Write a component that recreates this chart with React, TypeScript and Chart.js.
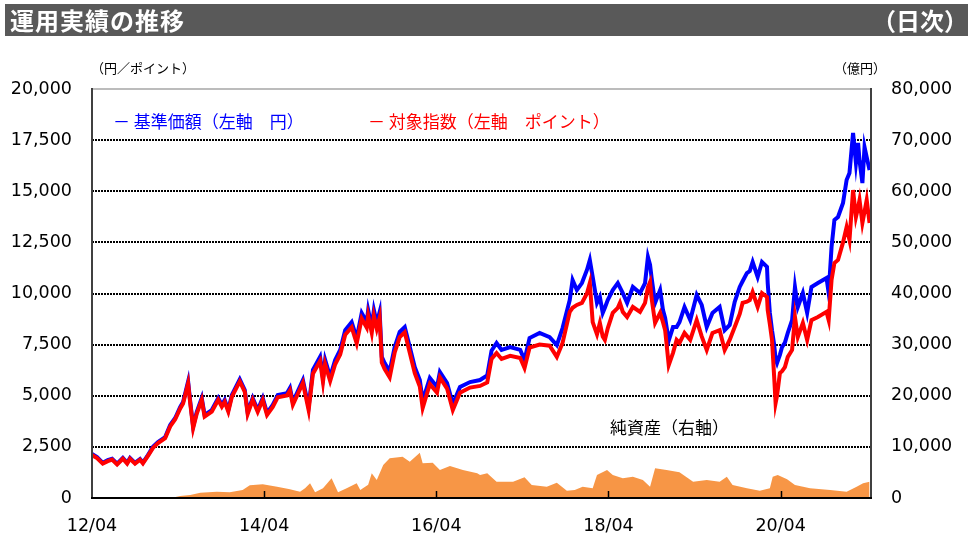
import React, { useEffect, useRef } from "react";
import { Chart, registerables } from "chart.js";

Chart.register(...registerables);

// X axis: months elapsed since 2012/04
const xTickMonths = [0, 24, 48, 72, 96];
const xTickLabels = ["12/04", "14/04", "16/04", "18/04", "20/04"];
const xMaxMonth = 108.6;

const leftTicks = [0, 2500, 5000, 7500, 10000, 12500, 15000, 17500, 20000];
const rightTicks = [0, 10000, 20000, 30000, 40000, 50000, 60000, 70000, 80000];

// 基準価額 / 対象指数 sample months
const lineMonths = [
  0.0, 0.7, 1.5, 2.2, 2.8, 3.5, 4.3, 4.9, 5.3, 6.0,
  6.7, 7.1, 7.8, 8.5, 9.2, 10.2, 10.9, 11.6, 12.3, 12.7,
  13.4, 13.7, 14.1, 14.6, 15.3, 15.7, 16.7, 17.6, 18.1, 18.5,
  19.0, 19.5, 20.6, 21.3, 21.7, 22.4, 23.1, 23.8, 24.4, 25.2,
  25.9, 27.2, 27.6,
  28.0, 29.4, 30.2, 30.8, 31.8, 32.2, 32.5, 33.2, 33.9, 34.6,
  35.3, 36.2, 36.9, 37.6, 38.3, 38.5, 39.0, 39.3, 39.7, 40.1,
  40.4, 40.8, 41.5, 42.2, 42.9, 43.6, 44.3, 45.0, 45.7, 46.1,
  47.1, 48.1, 48.5, 49.5, 50.3, 51.3, 52.7, 54.1,
  55.1, 55.7, 56.4, 57.1, 58.3, 59.7, 60.3, 61.0, 62.4, 63.8,
  64.8, 65.6, 66.6, 67.0, 67.6, 68.3, 69.0, 69.4, 69.8, 70.4,
  70.8, 71.2, 71.5, 71.9, 72.6, 73.3, 73.6, 74.0, 74.6, 75.4,
  76.4, 77.1, 77.5, 77.8, 78.0, 78.5, 79.2, 79.6, 79.9, 80.4,
  81.0, 81.5, 81.9, 82.6, 83.4, 84.3, 85.0, 85.7, 86.5, 87.5,
  88.2, 88.9, 89.6, 90.3, 90.7, 91.3, 91.7, 92.1, 92.8, 93.4,
  94.1, 94.2, 94.5, 94.8, 95.1, 95.3, 95.5, 95.9, 96.2, 96.6,
  97.0, 97.6, 98.0, 98.4, 99.1, 99.7, 100.3, 101.2, 102.4, 102.7,
  103.1, 103.5, 104.0, 104.7, 105.2, 105.6, 106.1, 106.5, 106.8, 107.0,
  107.4, 107.7, 108.0, 108.4,
];

// 基準価額（円）
const navValues = [
  2150, 2000, 1720, 1850, 1920, 1680, 1960, 1720, 1960, 1720,
  1910, 1730, 2100, 2500, 2740, 2980, 3570, 3910, 4450, 4690,
  5700, 4700, 3500, 4200, 4890, 4060, 4300, 4890, 4550, 4790,
  4300, 5040, 5800, 5280, 4200, 4890, 4300, 4890, 4160, 4550,
  5040, 5130, 5380,
  4690, 5770, 4450, 6260, 6900, 5870, 6750, 5920, 6750, 7240,
  8210, 8600, 7820, 9050, 8600, 9190, 8360, 9190, 8560, 9100,
  6900, 6600, 6200, 7380, 8120, 8360, 7380, 6400, 5770, 4750,
  5870, 5430, 6160, 5620, 4600, 5430, 5670, 5770,
  6000, 7200, 7580, 7240, 7380, 7240, 6750, 7820, 8070, 7870,
  7480, 8310, 9680, 10660, 10170, 10510, 11150, 11640, 10810, 9540,
  9830, 9050, 9300, 9680, 10170, 10510, 10300, 10020, 9540, 10320,
  10020, 10510, 11790, 11400, 10810, 9540, 10170, 9190, 8800, 7700,
  8360, 8360, 8600, 9340, 8700, 9930, 9440, 8360, 9050, 9340,
  8210, 8460, 9590, 10320, 10600, 11000, 11100, 11540, 10810, 11540,
  11300, 10510, 9050, 8200, 7500, 6800, 6600, 7000, 7380, 7600,
  8070, 8700, 10320, 9340, 10020, 9050, 10320, 10510, 10760, 10020,
  12270, 13590, 13740, 14430, 15550, 15890, 17850, 16380, 17360, 16500,
  15400, 17160, 16670, 16040,
];

// 対象指数（ポイント）
const indexValues = [
  2100, 1950, 1680, 1800, 1880, 1640, 1920, 1680, 1920, 1680,
  1870, 1690, 2060, 2450, 2690, 2930, 3500, 3850, 4380, 4620,
  5600, 4620, 3420, 4120, 4800, 3980, 4220, 4800, 4470, 4700,
  4220, 4950, 5700, 5190, 4110, 4800, 4210, 4790, 4060, 4450,
  4930, 5020, 5260,
  4560, 5630, 4300, 6080, 6700, 5680, 6550, 5720, 6540, 7020,
  7980, 8350, 7560, 8780, 8330, 8920, 8080, 8900, 8280, 8820,
  6620, 6300, 5900, 7120, 7870, 8100, 7100, 6100, 5450, 4400,
  5580, 5150, 5900, 5350, 4300, 5150, 5400, 5480,
  5650, 6800, 7090, 6800, 6950, 6850, 6360, 7350, 7500, 7450,
  6900, 7580, 9100, 9300, 9440, 9540, 10000, 10510, 8600, 8000,
  8560, 7900, 7730, 8300, 9050, 9300, 9540, 9100, 8850, 9340,
  9100, 9540, 10300, 10560, 9800, 8560, 9050, 8600, 8210, 6500,
  7100, 7730, 7580, 8070, 7730, 8700, 7900, 7240, 8070, 8210,
  7240, 7730, 8360, 9000, 9540, 9600, 9680, 10070, 9340, 10020,
  9830, 9190, 8500, 7730, 5920, 4640, 5000, 6110, 6200, 6400,
  6900, 7240, 8850, 7870, 8560, 7730, 8700, 8850, 9100, 8700,
  10660, 11490, 11640, 12500, 13250, 12620, 15060, 13740, 14200, 14570,
  13450, 14000, 14570, 13450,
];

// 純資産（億円）
const assetMonths = [
  0, 10.5, 11.3, 12.3, 13.7, 15.1, 17.4, 19.2, 21.0, 22.0,
  23.8, 25.8, 27.6, 29.0, 29.7, 30.4, 31.1, 32.2, 33.4, 34.3,
  35.5, 36.9, 37.4, 38.5, 39.0, 39.7, 40.6, 41.5, 43.3, 44.3,
  45.7, 46.1, 47.5, 48.5, 49.9, 51.7, 53.7, 54.1, 55.1, 56.4,
  58.7, 60.3, 61.3, 63.4, 64.8, 66.2, 67.3, 68.4, 69.8, 70.4,
  71.8, 72.6, 74.0, 75.4, 76.8, 77.8, 78.5, 80.1, 81.9, 83.8,
  85.7, 87.5, 88.5, 89.3, 91.3, 93.1, 94.5, 94.9, 95.6, 96.9,
  98.0, 100.1, 102.9, 105.2, 106.6, 107.5, 108.4,
];
const assetValues = [
  0, 0, 100, 400, 590, 1040, 1230, 1110, 1560, 2480,
  2680, 2210, 1700, 1230, 1900, 2870, 1110, 1890, 3850, 1110,
  1890, 2870, 1560, 2600, 4830, 3520, 6450, 7760, 8080, 7100,
  8860, 6790, 6900, 5480, 6260, 5480, 4830, 4500, 4830, 3190,
  3190, 4050, 2540, 2210, 2990, 1430, 1560, 2210, 1890, 4500,
  5480, 4500, 3850, 4170, 3520, 2210, 5800, 5480, 5020, 3190,
  3520, 3190, 4170, 2540, 1890, 1430, 1890, 4170, 4500, 3650,
  2540, 1890, 1560, 1230, 2210, 2870, 3190,
];

const fmt = (v: number) => Math.round(v).toLocaleString("en-US");

const framePlugin = {
  id: "frameLines",
  afterDraw(chart: any) {
    const { ctx, chartArea: a, scales } = chart;
    ctx.save();
    ctx.setLineDash([]);
    // top boundary (gray)
    ctx.strokeStyle = "#A6A6A6";
    ctx.lineWidth = 1.5;
    ctx.beginPath();
    ctx.moveTo(a.left, a.top);
    ctx.lineTo(a.right, a.top);
    ctx.stroke();
    // inner x tick marks
    ctx.strokeStyle = "#000";
    ctx.lineWidth = 1.5;
    xTickMonths.slice(1).forEach((m) => {
      const px = Math.round(scales.x.getPixelForValue(m)) + 0.5;
      ctx.beginPath();
      ctx.moveTo(px, a.bottom);
      ctx.lineTo(px, a.bottom - 7);
      ctx.stroke();
    });
    // axes
    ctx.strokeStyle = "#404040";
    ctx.lineWidth = 2;
    ctx.beginPath();
    ctx.moveTo(a.left, a.top - 1);
    ctx.lineTo(a.left, a.bottom);
    ctx.moveTo(a.right, a.top - 1);
    ctx.lineTo(a.right, a.bottom);
    ctx.stroke();
    ctx.strokeStyle = "#000";
    ctx.beginPath();
    ctx.moveTo(a.left - 1, a.bottom);
    ctx.lineTo(a.right + 1, a.bottom);
    ctx.stroke();
    ctx.restore();
  },
};

function ChartCanvas() {
  const ref = useRef<HTMLCanvasElement | null>(null);
  useEffect(() => {
    if (!ref.current) return;
    const tickFont = { family: "'DejaVu Sans', Verdana, sans-serif", size: 17.5 };
    const chart = new Chart(ref.current, {
      type: "line",
      data: {
        datasets: [
          {
            label: "対象指数",
            data: lineMonths.map((m, i) => ({ x: m, y: indexValues[i] })),
            borderColor: "#FF0000",
            borderWidth: 4,
            pointRadius: 0,
            tension: 0,
            fill: false,
            yAxisID: "y",
          },
          {
            label: "基準価額",
            data: lineMonths.map((m, i) => ({ x: m, y: navValues[i] })),
            borderColor: "#0000FF",
            borderWidth: 4,
            pointRadius: 0,
            tension: 0,
            fill: false,
            yAxisID: "y",
          },
          {
            label: "純資産",
            data: assetMonths.map((m, i) => ({ x: m, y: assetValues[i] })),
            borderColor: "#F79646",
            backgroundColor: "#F79646",
            borderWidth: 0,
            pointRadius: 0,
            tension: 0,
            fill: "origin",
            yAxisID: "y2",
          },
        ],
      },
      options: {
        responsive: false,
        animation: false,
        devicePixelRatio: 1,
        layout: { padding: { top: 89, left: 0, right: 0, bottom: 0 } },
        plugins: { legend: { display: false }, tooltip: { enabled: false } },
        scales: {
          x: {
            type: "linear",
            min: 0,
            max: xMaxMonth,
            afterBuildTicks: (s: any) => {
              s.ticks = xTickMonths.map((v) => ({ value: v }));
            },
            afterFit: (s: any) => {
              s.height = 39;
            },
            grid: { display: false, drawTicks: false },
            border: { display: false },
            ticks: {
              padding: 18,
              font: tickFont,
              color: "#000",
              maxRotation: 0,
              autoSkip: false,
              callback: (v: any) => {
                const i = xTickMonths.indexOf(Number(v));
                return i >= 0 ? xTickLabels[i] : "";
              },
            },
          },
          y: {
            type: "linear",
            position: "left",
            min: 0,
            max: 20000,
            afterBuildTicks: (s: any) => {
              s.ticks = leftTicks.map((v) => ({ value: v }));
            },
            afterFit: (s: any) => {
              s.width = 92;
            },
            grid: {
              drawTicks: false,
              lineWidth: 2,
              color: (c: any) =>
                c.tick && (c.tick.value === 0 || c.tick.value === 20000) ? "rgba(0,0,0,0)" : "#000",
            },
            border: { display: false, dash: [2, 1] },
            ticks: { padding: 20, font: tickFont, color: "#000", callback: (v: any) => fmt(Number(v)) },
          },
          y2: {
            type: "linear",
            position: "right",
            min: 0,
            max: 80000,
            afterBuildTicks: (s: any) => {
              s.ticks = rightTicks.map((v) => ({ value: v }));
            },
            afterFit: (s: any) => {
              s.width = 97;
            },
            grid: { display: false, drawTicks: false },
            border: { display: false },
            ticks: { padding: 20, font: tickFont, color: "#000", callback: (v: any) => fmt(Number(v)) },
          },
        },
      },
      plugins: [framePlugin],
    } as any);
    return () => chart.destroy();
  }, []);
  return (
    <canvas
      ref={ref}
      width={968}
      height={537}
      style={{ position: "absolute", left: 0, top: 0, width: 968, height: 537 }}
    />
  );
}

const jp = "'Noto Sans CJK JP', 'Noto Sans', sans-serif";

export default function App() {
  return (
    <div
      style={{
        position: "absolute",
        left: 0,
        top: 0,
        width: 968,
        height: 537,
        background: "#fff",
        overflow: "hidden",
        fontFamily: jp,
      }}
    >
      <ChartCanvas />
      <div
        style={{
          position: "absolute",
          left: 5,
          top: 4,
          width: 963,
          height: 32,
          background: "#595959",
          color: "#fff",
          fontWeight: 700,
          fontSize: 24,
          lineHeight: "32px",
        }}
      >
        <span style={{ position: "absolute", left: 5, top: 0, letterSpacing: 1 }}>運用実績の推移</span>
        <span style={{ position: "absolute", right: 0, top: 0 }}>（日次）</span>
      </div>
      <div style={{ position: "absolute", left: 91, top: 59, fontSize: 13, lineHeight: "18px", color: "#000" }}>
        （円／ポイント）
      </div>
      <div style={{ position: "absolute", left: 834, top: 59, fontSize: 13, lineHeight: "18px", color: "#000" }}>
        （億円）
      </div>
      <div
        style={{
          position: "absolute",
          left: 113,
          top: 110,
          fontSize: 17,
          lineHeight: "22px",
          color: "#0000FF",
          whiteSpace: "pre",
        }}
      >
        {"－ 基準価額（左軸　円）"}
      </div>
      <div
        style={{
          position: "absolute",
          left: 368,
          top: 110,
          fontSize: 17,
          lineHeight: "22px",
          color: "#FF0000",
          whiteSpace: "pre",
        }}
      >
        {"－ 対象指数（左軸　ポイント）"}
      </div>
      <div
        style={{
          position: "absolute",
          left: 610,
          top: 416,
          fontSize: 17,
          lineHeight: "22px",
          color: "#000",
          whiteSpace: "pre",
        }}
      >
        純資産（右軸）
      </div>
    </div>
  );
}
